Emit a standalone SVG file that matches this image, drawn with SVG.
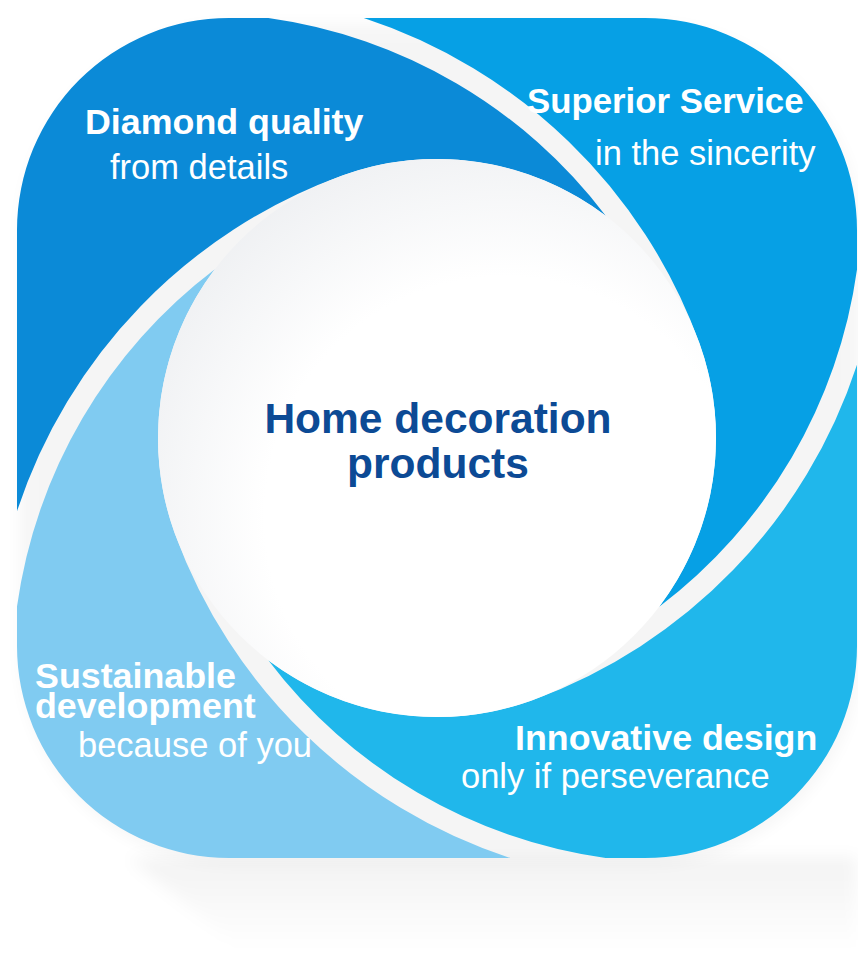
<svg xmlns="http://www.w3.org/2000/svg" width="858" height="959" viewBox="0 0 858 959">
  <defs>
    <path id="petal" d="M -420 73.2 L -420 -208 A 212 212 0 0 1 -208 -420 L -168.6 -420 A 512 512 0 0 1 168.7 -222.2 A 279 279 0 0 0 -95.4 -262.2 A 533.6 533.6 0 0 0 -420 73.2 Z"/>
    <radialGradient id="coreGrad" cx="0.62" cy="0.64" r="0.78">
      <stop offset="0" stop-color="#FFFFFF"/>
      <stop offset="0.55" stop-color="#FFFFFF"/>
      <stop offset="1" stop-color="#EAECEF"/>
    </radialGradient>
    <linearGradient id="floorGrad" x1="0" y1="0" x2="0" y2="1">
      <stop offset="0" stop-color="#000000" stop-opacity="0.05"/>
      <stop offset="1" stop-color="#000000" stop-opacity="0"/>
    </linearGradient>
    <filter id="blur" x="-20%" y="-20%" width="140%" height="140%">
      <feGaussianBlur stdDeviation="8"/>
    </filter>
  </defs>
  <style>
    .head { font-family: "Liberation Sans", Arial, sans-serif; font-weight: bold; fill: #FFFFFF; font-size: 35.8px; }
    .sub { font-family: "Liberation Sans", Arial, sans-serif; fill: #FFFFFF; font-size: 34.5px; }
    .core { font-family: "Liberation Sans", Arial, sans-serif; font-weight: bold; fill: #0C4A95; font-size: 42.5px; text-anchor: middle; }
  </style>
  <rect x="0" y="0" width="858" height="959" fill="#FFFFFF"/>
  <g id="shadow">
    <polygon points="130,858 856,858 856,950 240,950" fill="url(#floorGrad)" filter="url(#blur)"/>
    <rect x="20" y="24" width="840" height="840" rx="212" ry="212" fill="#000000" opacity="0.035" filter="url(#blur)"/>
  </g>
  <g id="diamond-quality">
    <use href="#petal" transform="translate(437 438)" fill="#0B8AD7"/>
    <text class="head" x="85" y="134">Diamond quality</text>
    <text class="sub" x="110" y="179">from details</text>
  </g>
  <g id="superior-service">
    <use href="#petal" transform="translate(437 438) rotate(90)" fill="#06A0E5"/>
    <text class="head" x="527" y="113" style="font-size:34.8px">Superior Service</text>
    <text class="sub" x="595" y="165">in the sincerity</text>
  </g>
  <g id="innovative-design">
    <use href="#petal" transform="translate(437 438) rotate(180)" fill="#20B7EB"/>
    <text class="head" x="515" y="750">Innovative design</text>
    <text class="sub" x="461" y="788">only if perseverance</text>
  </g>
  <g id="sustainable-development">
    <use href="#petal" transform="translate(437 438) rotate(270)" fill="#80CBF1"/>
    <text class="head" x="35" y="688">Sustainable</text>
    <text class="head" x="35" y="718">development</text>
    <text class="sub" x="78" y="757">because of you</text>
  </g>
  <g id="home-decoration-products">
    <circle cx="437" cy="438" r="279" fill="url(#coreGrad)"/>
    <text class="core" x="438" y="433">Home decoration</text>
    <text class="core" x="438" y="478">products</text>
  </g>
</svg>
